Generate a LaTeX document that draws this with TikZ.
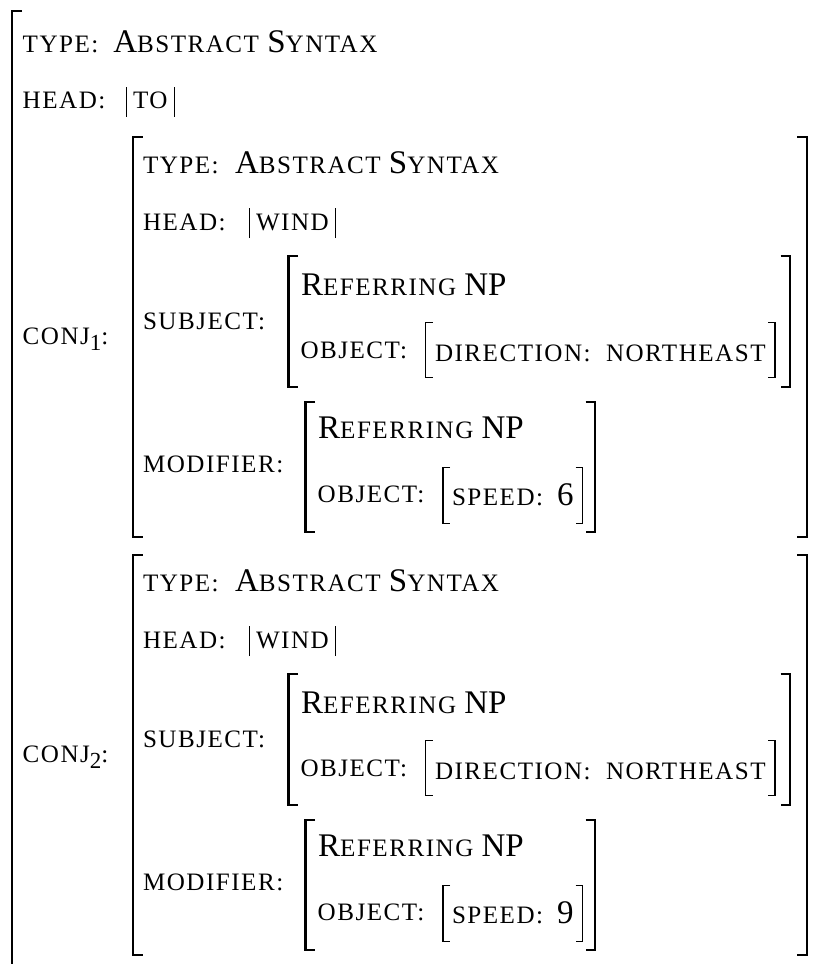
\documentclass[tikz,border=0pt]{standalone}
\usepackage{fontspec}
\setmainfont{Liberation Serif}
\newfontfamily\scfam[Scale=0.76,LetterSpace=6]{Liberation Serif}
\newcommand\smc[1]{{\scfam #1}}
\usetikzlibrary{calc}
\tikzset{
  txt/.style={anchor=base west, inner sep=0pt, outer sep=0pt, font=\fontsize{16.5}{19}\selectfont},
  bigbr/.style={line width=1.2pt, line join=miter},
  thinbr/.style={line width=0.65pt, line join=miter},
  headbar/.style={line width=0.6pt},
}
% bracket: x, top, bottom, hook (signed), style
\newcommand\brk[5]{\draw[#5] ({#1+(#4)},#2) -- (#1,#2) -- (#1,#3) -- ({#1+(#4)},#3);}
% bars round a head value node
\newcommand\headbars[1]{%
  \draw[headbar] ($(#1.base west)+(-6.5,8)$) -- ++(0,-30);
  \draw[headbar] ($(#1.base east)+(7,8)$) -- ++(0,-30);}
% one conjunct block: prefix, subscript, speed value, vertical shift (px)
\newcommand\conjblock[4]{%
\begin{scope}[shift={(0,#4)}, name prefix=#1]
  \node[txt] (lab) at (22.7,344) {\smc{CONJ}\raisebox{-3pt}{\fontsize{11.5}{12}\selectfont #2}\smc{:}};
  \brk{133}{136.7}{536.7}{9.5}{bigbr}
  \brk{806.7}{136.7}{536.7}{-9.5}{bigbr}
  \node[txt] (type) at (143,173.3) {\smc{TYPE:}};
  \node[txt] (abs) at (235,173.3) {A\smc{BSTRACT} S\smc{YNTAX}};
  \node[txt] (head) at (143,230) {\smc{HEAD:}};
  \node[txt] (wind) at (256,230) {\smc{WIND}};
  \headbars{wind}
  \node[txt] (subj) at (143,329.3) {\smc{SUBJECT:}};
  \brk{288.5}{255.7}{386.7}{9.5}{bigbr}
  \brk{790}{255.7}{386.7}{-9.5}{bigbr}
  \node[txt] (ref1) at (301,295) {R\smc{EFERRING} NP};
  \node[txt] (obj1) at (300.5,358.3) {\smc{OBJECT:}};
  \brk{425.8}{322.5}{377.7}{7}{thinbr}
  \brk{775}{322.5}{377.7}{-7}{thinbr}
  \node[txt] (dir) at (435,361.5) {\smc{DIRECTION:}};
  \node[txt] (ne) at (606,361.5) {\smc{NORTHEAST}};
  \node[txt] (mod) at (143,472.7) {\smc{MODIFIER:}};
  \brk{305.6}{401.7}{531.7}{9.5}{bigbr}
  \brk{595}{401.7}{531.7}{-9.5}{bigbr}
  \node[txt] (ref2) at (318.2,438.5) {R\smc{EFERRING} NP};
  \node[txt] (obj2) at (317.7,502) {\smc{OBJECT:}};
  \brk{443}{467.3}{523.3}{7}{thinbr}
  \brk{582.5}{467.3}{523.3}{-7}{thinbr}
  \node[txt] (spd) at (452,505.5) {\smc{SPEED:}};
  \node[txt] (val) at (557,505.5) {#3};
\end{scope}}

\begin{document}
\begin{tikzpicture}[x=0.5pt, y=-0.5pt]
  \useasboundingbox (0,0) rectangle (815,964);
  \fill[white] (0,0) rectangle (815,964);
  \clip (0,0) rectangle (815,964);
  % outer matrix
  \brk{12}{11}{990}{10}{bigbr}
  \node[txt] (otype) at (22.7,52.5) {\smc{TYPE:}};
  \node[txt] (oabs) at (113.3,52.5) {A\smc{BSTRACT} S\smc{YNTAX}};
  \node[txt] (ohead) at (22.7,108.5) {\smc{HEAD:}};
  \node[txt] (oto) at (133,108.5) {\smc{TO}};
  \headbars{oto}
  \conjblock{c1-}{1}{6}{0}
  \conjblock{c2-}{2}{9}{418}
\end{tikzpicture}
\end{document}
